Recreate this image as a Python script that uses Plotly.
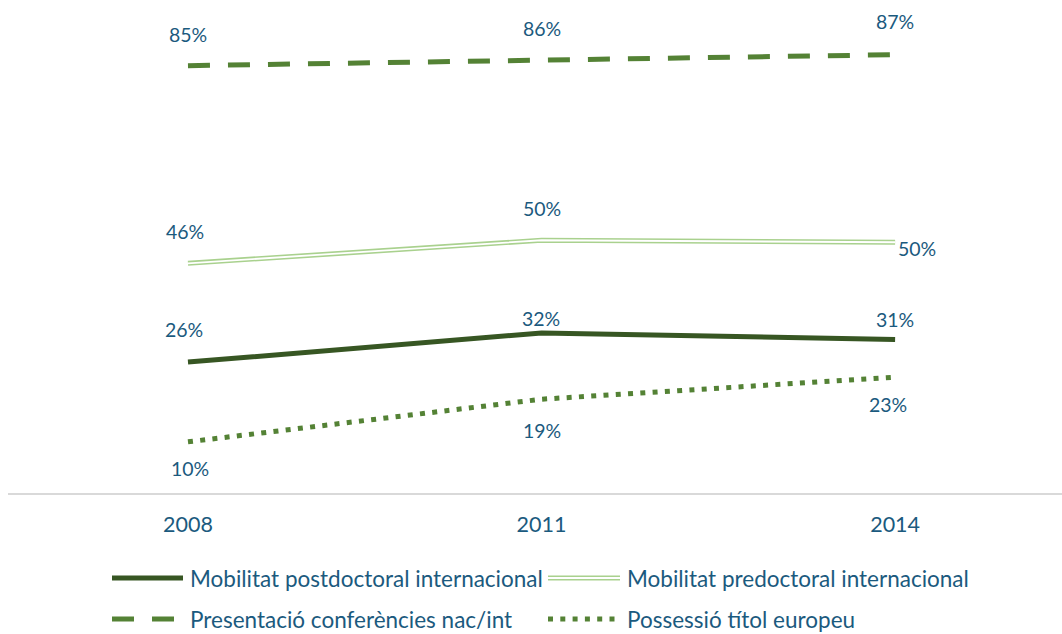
import plotly.graph_objects as go

years = ["2008", "2011", "2014"]
postdoc = [26.1, 31.9, 30.6]
predoc = [45.8, 50.4, 50.0]
conferencies = [85.2, 86.2, 87.4]
titol_europeu = [10.2, 18.7, 23.1]
series_names = [
    "Mobilitat postdoctoral internacional",
    "Mobilitat predoctoral internacional",
    "Presentació conferències nac/int",
    "Possessió títol europeu",
]

W, H = 1062, 634
L, R, T, B = 8, 0, 0, 141
FONT = "Lato"
TXT = "#1B5A7E"
C_POST = "#375623"
C_PRE = "#A9D18E"
C_DASH = "#548235"
C_DOT = "#548235"

fig = go.Figure()

fig.add_trace(go.Scatter(x=years, y=postdoc, mode="lines",
                         line=dict(color=C_POST, width=5), showlegend=False))
fig.add_trace(go.Scatter(x=years, y=predoc, mode="lines",
                         line=dict(color=C_PRE, width=5), showlegend=False))
fig.add_trace(go.Scatter(x=years, y=predoc, mode="lines",
                         line=dict(color="white", width=1.8), showlegend=False))
fig.add_trace(go.Scatter(x=years, y=conferencies, mode="lines",
                         line=dict(color=C_DASH, width=5, dash="22px,18px"), showlegend=False))
fig.add_trace(go.Scatter(x=years, y=titol_europeu, mode="lines",
                         line=dict(color=C_DOT, width=5, dash="5px,7.3px"), showlegend=False))

# data labels (offsets in px are styling)
label_offsets = {
    0: [(-4, 33), (-1, 15), (0, 20)],
    1: [(-3, 32), (0, 32), (22, -6)],
    2: [(0, 31), (0, 32), (0, 33)],
    3: [(2, -27), (0, -31), (-7, -27)],
}
all_series = [postdoc, predoc, conferencies, titol_europeu]
for si, vals in enumerate(all_series):
    for i, v in enumerate(vals):
        dx, dy = label_offsets[si][i]
        fig.add_annotation(x=i, y=v, xref="x", yref="y", text=f"{round(v)}%",
                           showarrow=False, xshift=dx, yshift=dy,
                           font=dict(family=FONT, size=19.5, color=TXT))

# manual legend
def px_x(px):
    return (px - L) / (W - L - R)

def px_y(py):
    return (H - B - py) / (H - B - T)

legend_items = [
    (series_names[0], 112, 183, 578, [dict(color=C_POST, width=5)]),
    (series_names[1], 548, 620, 578, [dict(color=C_PRE, width=5), dict(color="white", width=1.8)]),
    (series_names[2], 112, 183, 619, [dict(color=C_DASH, width=5, dash="22px,18px")]),
    (series_names[3], 548, 620, 619, [dict(color=C_DOT, width=5, dash="5px,7.3px")]),
]
for name, x0, x1, yy, lines in legend_items:
    for ln in lines:
        fig.add_shape(type="line", xref="paper", yref="paper",
                      x0=px_x(x0), x1=px_x(x1), y0=px_y(yy), y1=px_y(yy), line=ln)
    fig.add_annotation(x=px_x(x1 + 5), y=px_y(yy), xref="paper", yref="paper",
                       text=name, showarrow=False, xanchor="left", yanchor="middle",
                       font=dict(family=FONT, size=22.5, color=TXT))

fig.update_layout(
    width=W, height=H,
    margin=dict(l=L, r=R, t=T, b=B),
    paper_bgcolor="white", plot_bgcolor="white",
    showlegend=False,
    xaxis=dict(type="category", range=[-0.509, 2.472], showgrid=False, zeroline=False,
               showline=True, linecolor="#D9D9D9", linewidth=2,
               ticks="", ticklabelstandoff=11,
               tickfont=dict(family=FONT, size=21.5, color=TXT)),
    yaxis=dict(range=[0, 98.3], showgrid=False, zeroline=False, showline=False,
               showticklabels=False),
)

fig.write_html("out.html", config={"displayModeBar": False},
               post_script="document.body.style.margin='0';document.body.style.overflow='hidden';")
